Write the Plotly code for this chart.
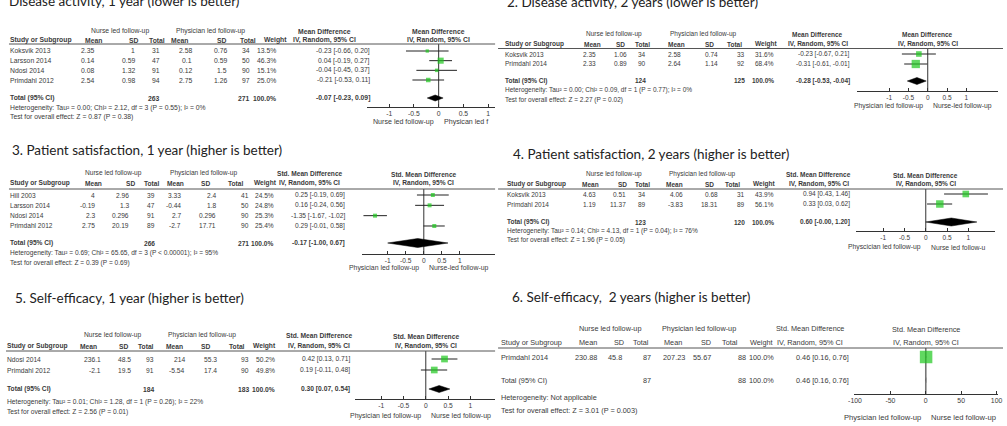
import plotly.graph_objects as go

W, H = 1007, 426

# ---------------- data ----------------
p1_title = "Disease activity, 1 year (lower is better)"
p1_studies = ["Koksvik 2013", "Larsson 2014", "Ndosi 2014", "Primdahl 2012"]
p1_n_mean = [2.35, 0.14, 0.08, 2.54]
p1_n_sd = [1, 0.59, 1.32, 0.98]
p1_n_tot = [31, 47, 91, 94]
p1_p_mean = [2.58, 0.1, 0.12, 2.75]
p1_p_sd = [0.76, 0.59, 1.5, 1.26]
p1_p_tot = [34, 50, 90, 97]
p1_weight = [13.5, 46.3, 15.1, 25.0]
p1_est = [-0.23, 0.04, -0.04, -0.21]
p1_lo = [-0.66, -0.19, -0.45, -0.53]
p1_hi = [0.20, 0.27, 0.37, 0.11]
p1_totals = [263, 271, 100.0]
p1_pooled = [-0.07, -0.23, 0.09]
p1_het = "Heterogeneity: Tau² = 0.00; Chi² = 2.12, df = 3 (P = 0.55); I² = 0%"
p1_test = "Test for overall effect: Z = 0.87 (P = 0.38)"
p1_effect = "Mean Difference"
p1_left_lab = "Nurse led follow-up"
p1_right_lab = "Physican led f"
p1_ticks = [-1, -0.5, 0, 0.5, 1]
p1_ticktext = ["-1", "-0.5", "0", "0.5", "1"]

p2_title = "2. Disease activity, 2 years (lower is better)"
p2_studies = ["Koksvik 2013", "Primdahl 2014"]
p2_n_mean = [2.35, 2.33]
p2_n_sd = [1.06, 0.89]
p2_n_tot = [34, 90]
p2_p_mean = [2.58, 2.64]
p2_p_sd = [0.74, 1.14]
p2_p_tot = [33, 92]
p2_weight = [31.6, 68.4]
p2_est = [-0.23, -0.31]
p2_lo = [-0.67, -0.61]
p2_hi = [0.21, -0.01]
p2_totals = [124, 125, 100.0]
p2_pooled = [-0.28, -0.53, -0.04]
p2_het = "Heterogeneity: Tau² = 0.00; Chi² = 0.09, df = 1 (P = 0.77); I² = 0%"
p2_test = "Test for overall effect: Z = 2.27 (P = 0.02)"
p2_effect = "Mean Difference"
p2_left_lab = "Physician led follow-up"
p2_right_lab = "Nurse-led follow-up"
p2_ticks = [-1, -0.5, 0, 0.5, 1]
p2_ticktext = ["-1", "-0.5", "0", "0.5", "1"]

p3_title = "3. Patient satisfaction, 1 year (higher is better)"
p3_studies = ["Hill 2003", "Larsson 2014", "Ndosi 2014", "Primdahl 2012"]
p3_n_mean = [4, -0.19, 2.3, 2.75]
p3_n_sd = [2.96, 1.3, 0.296, 20.19]
p3_n_tot = [39, 47, 91, 89]
p3_p_mean = [3.33, -0.44, 2.7, -2.7]
p3_p_sd = [2.4, 1.8, 0.296, 17.71]
p3_p_tot = [41, 50, 90, 90]
p3_weight = [24.5, 24.8, 25.3, 25.4]
p3_est = [0.25, 0.16, -1.35, 0.29]
p3_lo = [-0.19, -0.24, -1.67, -0.01]
p3_hi = [0.69, 0.56, -1.02, 0.58]
p3_totals = [266, 271, 100.0]
p3_pooled = [-0.17, -1.00, 0.67]
p3_het = "Heterogeneity: Tau² = 0.69; Chi² = 65.65, df = 3 (P < 0.00001); I² = 95%"
p3_test = "Test for overall effect: Z = 0.39 (P = 0.69)"
p3_effect = "Std. Mean Difference"
p3_left_lab = "Physician led follow-up"
p3_right_lab = "Nurse-led follow-up"
p3_ticks = [-1, -0.5, 0, 0.5, 1]
p3_ticktext = ["-1", "-0.5", "0", "0.5", "1"]

p4_title = "4. Patient satisfaction, 2 years (higher is better)"
p4_studies = ["Koksvik 2013", "Primdahl 2014"]
p4_n_mean = [4.63, 1.19]
p4_n_sd = [0.51, 11.37]
p4_n_tot = [34, 89]
p4_p_mean = [4.06, -3.83]
p4_p_sd = [0.68, 18.31]
p4_p_tot = [31, 89]
p4_weight = [43.9, 56.1]
p4_est = [0.94, 0.33]
p4_lo = [0.43, 0.03]
p4_hi = [1.46, 0.62]
p4_totals = [123, 120, 100.0]
p4_pooled = [0.60, -0.00, 1.20]
p4_het = "Heterogeneity: Tau² = 0.14; Chi² = 4.13, df = 1 (P = 0.04); I² = 76%"
p4_test = "Test for overall effect: Z = 1.96 (P = 0.05)"
p4_effect = "Std. Mean Difference"
p4_left_lab = "Physcician led follow-up"
p4_right_lab = "Nurse led follow-u"
p4_ticks = [-1, -0.5, 0, 0.5, 1]
p4_ticktext = ["-1", "-0.5", "0", "0.5", "1"]

p5_title = "5. Self-efficacy, 1 year (higher is better)"
p5_studies = ["Ndosi 2014", "Primdahl 2012"]
p5_n_mean = [236.1, -2.1]
p5_n_sd = [48.5, 19.5]
p5_n_tot = [93, 91]
p5_p_mean = [214, -5.54]
p5_p_sd = [55.3, 17.4]
p5_p_tot = [93, 90]
p5_weight = [50.2, 49.8]
p5_est = [0.42, 0.19]
p5_lo = [0.13, -0.11]
p5_hi = [0.71, 0.48]
p5_totals = [184, 183, 100.0]
p5_pooled = [0.30, 0.07, 0.54]
p5_het = "Heterogeneity: Tau² = 0.01; Chi² = 1.28, df = 1 (P = 0.26); I² = 22%"
p5_test = "Test for overall effect: Z = 2.56 (P = 0.01)"
p5_effect = "Std. Mean Difference"
p5_left_lab = "Physician led follow-up"
p5_right_lab = "Nurse led follow-up"
p5_ticks = [-1, -0.5, 0, 0.5, 1]
p5_ticktext = ["-1", "-0.5", "0", "0.5", "1"]

p6_title = "6. Self-efficacy,  2 years (higher is better)"
p6_studies = ["Primdahl 2014"]
p6_n_mean = [230.88]
p6_n_sd = [45.8]
p6_n_tot = [87]
p6_p_mean = [207.23]
p6_p_sd = [55.67]
p6_p_tot = [88]
p6_weight = [100.0]
p6_est = [0.46]
p6_lo = [0.16]
p6_hi = [0.76]
p6_totals = [87, 88, 100.0]
p6_pooled = [0.46, 0.16, 0.76]
p6_het = "Heterogeneity: Not applicable"
p6_test = "Test for overall effect: Z = 3.01 (P = 0.003)"
p6_effect = "Std. Mean Difference"
p6_left_lab = "Physician led follow-up"
p6_right_lab = "Nurse led follow-up"
p6_ticks = [-100, -50, 0, 50, 100]
p6_ticktext = ["-100", "-50", "0", "50", "100"]


def pack(p):
    g = globals()
    keys = ["title", "studies", "n_mean", "n_sd", "n_tot", "p_mean", "p_sd", "p_tot", "weight",
            "est", "lo", "hi", "totals", "pooled", "het", "test", "effect", "left_lab",
            "right_lab", "ticks", "ticktext"]
    return {k: g[f"{p}_{k}"] for k in keys}


data = [pack(f"p{i}") for i in range(1, 7)]

# ---------------- layout geometry (pixels) ----------------
SANS = "Liberation Sans, Arial, sans-serif"
TITLE_FONT = "Lato, Open Sans, sans-serif"
GREEN = "#1ec81e"
INK = "#3a3a3a"

geom = [
    dict(title_xy=(2, 1), name_x=3, cols_r=[90, 131, 157, 189, 224, 247, 274, 369],
         grp_y=31, grp_c=[115, 207], hdr_y=40, hdr_c=[88, 129, 153, 175, 218, 244, 272],
         ci_hdr_c=322, line_y=44, line_x=(3, 494), row0=51, rstep=9.67,
         tot_y=98, het_y=108, test_y=117, zero_x=437, ppu=50, dom=(365, 494),
         axis_y=107, axlab_y=122, fs=6.8, tfs=6.8, bold=True, ksq=0.9, dh=3, dlw=0.5,
         zcol="#333", zw=1),
    dict(title_xy=(505, 2), name_x=503, cols_r=[597, 628, 647, 683, 720, 747, 777, 853],
         grp_y=34, grp_c=[614, 704], hdr_y=44, hdr_c=[592, 621, 643, 677, 711, 736, 768],
         ci_hdr_c=820, line_y=48.5, line_x=(497, 1007), row0=54, rstep=10,
         tot_y=81, het_y=90, test_y=100, zero_x=931, ppu=39, dom=(860, 1002),
         axis_y=91, axlab_y=106, fs=6.5, tfs=6.5, bold=True, ksq=1.0, dh=3.5, dlw=0.5,
         zcol="#333", zw=1),
    dict(title_xy=(5, 150), name_x=3, cols_r=[91, 125, 152, 178, 213, 246, 272, 343],
         grp_y=173, grp_c=[109, 199], hdr_y=183, hdr_c=[88, 126, 147, 171, 201, 232, 262],
         ci_hdr_c=307, line_y=189, line_x=(3, 494), row0=195, rstep=10.33,
         tot_y=243, het_y=253, test_y=263, zero_x=422, ppu=36.5, dom=(360, 494),
         axis_y=254, axlab_y=268, fs=6.6, tfs=6.6, bold=True, ksq=0.8, dh=4.5, dlw=0.5,
         zcol="#333", zw=1),
    dict(title_xy=(511, 154), name_x=505, cols_r=[597, 627, 647, 685, 720, 747, 777, 853],
         grp_y=174, grp_c=[614, 703], hdr_y=184, hdr_c=[590, 623, 643, 675, 711, 734, 766],
         ci_hdr_c=821, line_y=189, line_x=(497, 1007), row0=194, rstep=10,
         tot_y=222, het_y=231, test_y=240, zero_x=929, ppu=43, dom=(859, 999),
         axis_y=231, axlab_y=247, fs=6.5, tfs=6.5, bold=True, ksq=1.0, dh=4, dlw=0.5,
         zcol="#333", zw=1),
    dict(title_xy=(8, 298), name_x=0, cols_r=[97, 127, 150, 182, 214, 246, 273, 348],
         grp_y=335, grp_c=[108, 198], hdr_y=346, hdr_c=[83, 119, 141, 170, 201, 233, 261],
         ci_hdr_c=316, line_y=351, line_x=(0, 494), row0=359, rstep=11,
         tot_y=389, het_y=402, test_y=412, zero_x=424, ppu=45, dom=(352, 494),
         axis_y=399, axlab_y=416, fs=6.7, tfs=6.7, bold=True, ksq=0.95, dh=3.5, dlw=0.5,
         zcol="#333", zw=1),
    dict(title_xy=(510, 297), name_x=499, cols_r=[598, 623, 652, 687, 713, 748, 777, 852],
         grp_y=328, grp_c=[610, 700], hdr_y=342, hdr_c=[588, 619, 641, 674, 707, 731, 763],
         ci_hdr_c=812, line_y=348, line_x=(497, 1007), row0=357, rstep=10,
         tot_y=380, het_y=397, test_y=410, zero_x=929, ppu=0.715, dom=(857, 1002),
         axis_y=394, axlab_y=417, fs=7.3, tfs=6.9, bold=False, ksq=1.25, dh=3, dlw=0,
         zcol="#777", zw=1.6),
]

ann, shapes, traces = [], [], []
layout_axes = {}


def X(x):
    return x / W


def Y(y):
    return 1 - y / H


def text(x, y, s, anchor="left", size=7, color=INK, bold=False, family=SANS):
    ann.append(dict(xref="paper", yref="paper", x=X(x), y=Y(y),
                    text=(f"<b>{s}</b>" if bold else s), showarrow=False,
                    xanchor=anchor, yanchor="middle", borderpad=0,
                    font=dict(size=size, family=family, color=color)))


def fmt(v):
    return f"{v:g}"


for idx, (d, g) in enumerate(zip(data, geom)):
    k = idx + 1
    fs, b = g["fs"], g["bold"]
    # title
    text(g["title_xy"][0], g["title_xy"][1], d["title"], size=13.5, color="#222",
         family=TITLE_FONT)
    # group headers
    text(g["grp_c"][0], g["grp_y"], "Nurse led follow-up", "center", fs)
    text(g["grp_c"][1], g["grp_y"], "Physician led follow-up", "center", fs)
    text(g["ci_hdr_c"], g["grp_y"], d["effect"], "center", fs, bold=b)
    # column headers
    text(g["name_x"], g["hdr_y"], "Study or Subgroup", "left", fs, bold=b)
    for lab, cx in zip(["Mean", "SD", "Total", "Mean", "SD", "Total", "Weight"], g["hdr_c"]):
        text(cx, g["hdr_y"], lab, "center", fs, bold=b)
    text(g["ci_hdr_c"], g["hdr_y"], "IV, Random, 95% CI", "center", fs, bold=b)
    shapes.append(dict(type="line", xref="paper", yref="paper", x0=X(g["line_x"][0]),
                       x1=X(g["line_x"][1]), y0=Y(g["line_y"]), y1=Y(g["line_y"]),
                       line=dict(color="#555", width=1)))
    # study rows
    rows_y = [g["row0"] + i * g["rstep"] for i in range(len(d["studies"]))]
    for i, name in enumerate(d["studies"]):
        y = rows_y[i]
        text(g["name_x"], y, name, "left", fs)
        vals = [fmt(d["n_mean"][i]), fmt(d["n_sd"][i]), str(d["n_tot"][i]),
                fmt(d["p_mean"][i]), fmt(d["p_sd"][i]), str(d["p_tot"][i]),
                f"{d['weight'][i]:.1f}%",
                f"{d['est'][i]:.2f} [{d['lo'][i]:.2f}, {d['hi'][i]:.2f}]"]
        for v, xr in zip(vals, g["cols_r"]):
            text(xr, y, v, "right", fs)
    # total row
    pe, pl, ph = d["pooled"]
    text(g["name_x"], g["tot_y"], "Total (95% CI)", "left", fs, bold=b)
    text(g["cols_r"][2], g["tot_y"], str(d["totals"][0]), "right", fs, bold=b)
    text(g["cols_r"][5], g["tot_y"], str(d["totals"][1]), "right", fs, bold=b)
    text(g["cols_r"][6], g["tot_y"], f"{d['totals'][2]:.1f}%", "right", fs, bold=b)
    text(g["cols_r"][7], g["tot_y"], f"{pe:.2f} [{pl:.2f}, {ph:.2f}]", "right", fs, bold=b)
    text(g["name_x"], g["het_y"], d["het"], "left", fs)
    text(g["name_x"], g["test_y"], d["test"], "left", fs)

    # ---- forest plot ----
    xa = "x" if k == 1 else f"x{k}"
    ya = "y" if k == 1 else f"y{k}"
    rng = [(g["dom"][0] - g["zero_x"]) / g["ppu"], (g["dom"][1] - g["zero_x"]) / g["ppu"]]
    layout_axes["xaxis" if k == 1 else f"xaxis{k}"] = dict(
        domain=[X(g["dom"][0]), X(g["dom"][1])], range=rng, anchor="free",
        position=Y(g["axis_y"]), showline=True, linecolor="#333", linewidth=1,
        ticks="inside", ticklen=3, tickcolor="#333", tickvals=d["ticks"],
        ticktext=d["ticktext"], tickfont=dict(size=g["tfs"], family=SANS, color=INK),
        showgrid=False, zeroline=False, fixedrange=True)
    layout_axes["yaxis" if k == 1 else f"yaxis{k}"] = dict(
        domain=[0, 1], range=[H, 0], visible=False, anchor=xa, fixedrange=True)
    # zero line
    traces.append(go.Scatter(x=[0, 0], y=[g["line_y"], g["axis_y"]], mode="lines",
                             line=dict(color=g["zcol"], width=g["zw"]), xaxis=xa, yaxis=ya,
                             hoverinfo="skip", cliponaxis=False))
    # studies
    traces.append(go.Scatter(
        x=d["est"], y=rows_y, mode="markers", xaxis=xa, yaxis=ya, cliponaxis=False,
        marker=dict(symbol="square", color=GREEN,
                    size=[g["ksq"] * w ** 0.5 for w in d["weight"]], line=dict(width=0)),
        error_x=dict(type="data", symmetric=False,
                     array=[h - e for e, h in zip(d["est"], d["hi"])],
                     arrayminus=[e - l for e, l in zip(d["est"], d["lo"])],
                     width=0, thickness=1, color="#222")))
    # pooled diamond
    ty, dh = g["tot_y"], g["dh"]
    traces.append(go.Scatter(x=[pl, pe, ph, pe, pl], y=[ty, ty - dh, ty, ty + dh, ty],
                             mode="lines", fill="toself", fillcolor="black",
                             line=dict(color="black", width=g["dlw"]), xaxis=xa, yaxis=ya,
                             cliponaxis=False, hoverinfo="skip"))
    # forest headers
    text(g["zero_x"], g["grp_y"] + 1, d["effect"], "center", fs, bold=b)
    text(g["zero_x"], g["hdr_y"], "IV, Random, 95% CI", "center", fs, bold=b)
    # direction labels
    ann.append(dict(xref=xa, yref="paper", x=0, y=Y(g["axlab_y"]), text=d["left_lab"],
                    showarrow=False, xanchor="right", yanchor="middle", xshift=-3,
                    font=dict(size=fs + 0.3, family=SANS, color=INK)))
    ann.append(dict(xref=xa, yref="paper", x=0, y=Y(g["axlab_y"]), text=d["right_lab"],
                    showarrow=False, xanchor="left", yanchor="middle", xshift=3,
                    font=dict(size=fs + 0.3, family=SANS, color=INK)))

fig = go.Figure(data=traces)
fig.update_layout(width=W, height=H, margin=dict(l=0, r=0, t=0, b=0), autosize=False,
                  paper_bgcolor="white", plot_bgcolor="rgba(0,0,0,0)", showlegend=False,
                  annotations=ann, shapes=shapes, **layout_axes)
fig.write_html("out.html")
